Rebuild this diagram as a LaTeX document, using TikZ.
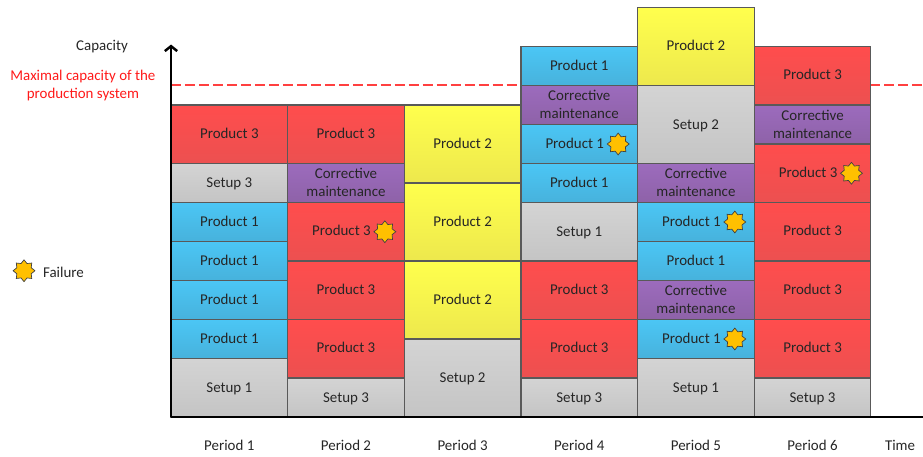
\documentclass[tikz,border=0pt]{standalone}
\usepackage{fontspec}
\setmainfont{Carlito}
\usetikzlibrary{positioning}
\usetikzlibrary{shapes.geometric}
\usetikzlibrary{arrows.meta}
\definecolor{inkgray}{HTML}{262626}
\definecolor{edgegray}{HTML}{595959}
\definecolor{limitred}{HTML}{FF4040}
\tikzset{
  cell/.style={draw=edgegray, line width=0.8pt, shading angle=0, nodes={yshift=0.7pt}},
  every node/.append style={font=\fontsize{10.9}{13.3}\selectfont, text=inkgray, align=center},
  setup/.style={cell, top color=black!17, bottom color=black!23, nodes={yshift=-1.4pt}},
  prodone/.style={cell, top color={rgb,255:red,75;green,198;blue,245}, bottom color={rgb,255:red,71;green,178;blue,220}},
  prodtwo/.style={cell, top color={rgb,255:red,255;green,255;blue,77}, bottom color={rgb,255:red,237;green,232;blue,77}},
  prodthree/.style={cell, top color={rgb,255:red,255;green,77;blue,77}, bottom color={rgb,255:red,236;green,80;blue,80}},
  repair/.style={cell, top color={rgb,255:red,156;green,107;blue,189}, bottom color={rgb,255:red,142;green,98;blue,168}, nodes={yshift=-0.35pt}},
  failstar/.style={star, star points=8, star point ratio=1.4, minimum size=0.56cm, inner sep=0pt,
    draw=black!75, line width=0.5pt, fill={rgb,255:red,255;green,192;blue,0}},
  axisline/.style={black, line width=1.8pt},
  limitline/.style={draw=limitred, line width=1pt, dash pattern=on 7.3pt off 2.9pt}
}
\begin{document}
\begin{tikzpicture}[x=0.4985cm, y=0.5cm]
\useasboundingbox (-8.796,-2.051) rectangle (38.68,21.385);
% maximal capacity
\coordinate (maxstart) at (0,17.03);
\coordinate (maxend) at (38.68,17.03);
\draw[limitline] (maxstart) -- (maxend);
% period 1
\foreach \lo/\hi/\kind/\txt in {0/3/setup/Setup 1, 3/5/prodone/Product 1, 5/7/prodone/Product 1, 7/9/prodone/Product 1, 9/11/prodone/Product 1, 11/13/setup/Setup 3, 13/16/prodthree/Product 3}
  \draw[\kind] (0,\lo) rectangle (6,\hi) node[midway] (pa-\lo) {\txt};
% period 2
\foreach \lo/\hi/\kind/\txt in {0/2/setup/Setup 3, 2/5/prodthree/Product 3, 5/8/prodthree/Product 3, 11/13/repair/Corrective\\maintenance, 13/16/prodthree/Product 3}
  \draw[\kind] (6,\lo) rectangle (12,\hi) node[midway] (pb-\lo) {\txt};
% period 3
\foreach \lo/\hi/\kind/\txt in {0/4/setup/Setup 2, 4/8/prodtwo/Product 2, 8/12/prodtwo/Product 2, 12/16/prodtwo/Product 2}
  \draw[\kind] (12,\lo) rectangle (18,\hi) node[midway] (pc-\lo) {\txt};
% period 4
\foreach \lo/\hi/\kind/\txt in {0/2/setup/Setup 3, 2/5/prodthree/Product 3, 5/8/prodthree/Product 3, 8/11/setup/Setup 1, 11/13/prodone/Product 1, 15/17/repair/Corrective\\maintenance, 17/19/prodone/Product 1}
  \draw[\kind] (18,\lo) rectangle (24,\hi) node[midway] (pd-\lo) {\txt};
% period 5
\foreach \lo/\hi/\kind/\txt in {0/3/setup/Setup 1, 5/7/repair/Corrective\\maintenance, 7/9/prodone/Product 1, 11/13/repair/Corrective\\maintenance, 13/17/setup/Setup 2, 17/21/prodtwo/Product 2}
  \draw[\kind] (24,\lo) rectangle (30,\hi) node[midway] (pe-\lo) {\txt};
% period 6
\foreach \lo/\hi/\kind/\txt in {0/2/setup/Setup 3, 2/5/prodthree/Product 3, 5/8/prodthree/Product 3, 8/11/prodthree/Product 3, 14/16/repair/Corrective\\maintenance, 16/19/prodthree/Product 3}
  \draw[\kind] (30,\lo) rectangle (36,\hi) node[midway] (pf-\lo) {\txt};
% cells with a failure
\foreach \nm/\col/\lo/\hi/\kind/\txt in {fa/6/8/11/prodthree/Product 3, fb/18/13/15/prodone/Product 1, fc/24/3/5/prodone/Product 1, fd/24/9/11/prodone/Product 1, fe/30/11/14/prodthree/Product 3}{
  \draw[\kind] (\col,\lo) rectangle (\col+6,\hi) node[midway, xshift=-0.115cm] (\nm) {\txt};
  \node[failstar] (star-\nm) at (\col+5,{(\lo+\hi)/2}) {};
}
% axes
\coordinate (origin) at (0,0);
\coordinate (captop) at (0,19.1);
\coordinate (timeend) at (38.68,0);
\draw[axisline, -{Straight Barb[length=3.6pt, width=9pt]}] (origin) -- (captop);
\draw[axisline] (origin) -- (timeend);
% labels
\node (capacity) at (-3.55,18.98) {Capacity};
\node[text=red!90!white] (maxcap) at (-4.53,17.0) {Maximal capacity of the\\production system};
\node[failstar] (legstar) at (-7.56,7.5) {};
\node[right=0.07cm of legstar, yshift=-1.4pt] (failure) {Failure};
\foreach \i in {1,...,6}
  \node (period-\i) at (6*\i-3,-1.44) {Period \i};
\node (time) at (37.5,-1.44) {Time};
\end{tikzpicture}
\end{document}
